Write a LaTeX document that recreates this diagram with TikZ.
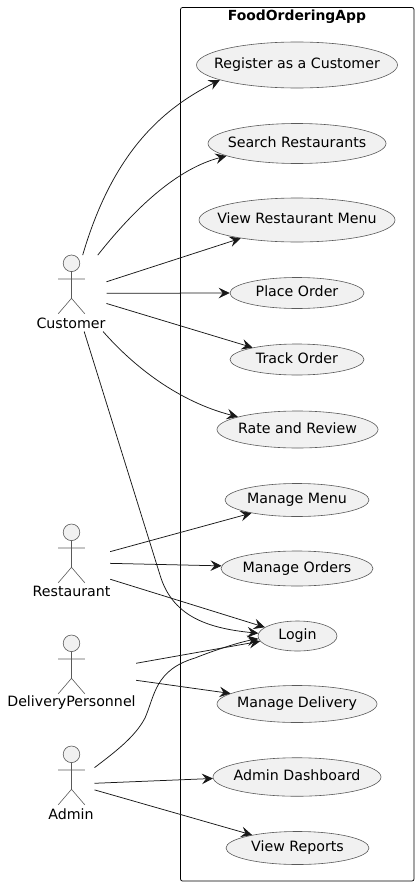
\documentclass[tikz,border=0pt]{standalone}
\usepackage{fontspec}
\setmainfont{DejaVu Sans}
\usetikzlibrary{arrows.meta,shapes.geometric}
\definecolor{ucfill}{HTML}{F1F1F1}
\definecolor{ucline}{HTML}{181818}
\definecolor{ucedge}{HTML}{5A5A5A}
\newcommand{\uctext}[1]{\makebox[0pt][c]{\raisebox{2pt}{\vphantom{Ag}#1}}}
\newcommand{\actorfig}[2]{%
  \draw[actorline] (#1,#2) circle[radius=8.3];
  \draw[actorline,fill=none] (#1,#2+8.3) -- (#1,#2+35)
    (#1-13.3,#2+15.7) -- (#1+13.3,#2+15.7)
    (#1-13.3,#2+50.5) -- (#1,#2+35) -- (#1+13.3,#2+50.5);
}
\tikzset{
  actorline/.style={draw=ucedge,line width=0.6pt,fill=ucfill},
  usecase/.style={ellipse,draw=ucedge,line width=0.6pt,fill=ucfill,inner sep=0pt,font=\fontsize{14.2}{16}\selectfont},
  actorbox/.style={rectangle,inner sep=0pt,draw=none},
  actorlabel/.style={inner sep=0pt,font=\fontsize{14.2}{16}\selectfont},
  conn/.style={draw=ucline,line width=0.75pt,-{Stealth[length=11pt,width=10.5pt,inset=4pt]}},
  sysbox/.style={draw=black,line width=0.75pt,rounded corners=2pt},
  systitle/.style={inner sep=0pt,font=\fontsize{13.9}{16}\selectfont\bfseries}
}
\begin{document}
\begin{tikzpicture}[x=1pt,y=-1pt]
\useasboundingbox (0,0) rectangle (419,886);
\node[sysbox,minimum width=233.5pt,minimum height=873.5pt,inner sep=0pt] (app) at (297.25,444.25) {};
\node[systitle] (title) at (297,17) {FoodOrderingApp};

% actor areas
\node[actorbox,minimum width=70.6pt,minimum height=76pt] (cust) at (71,293.3) {};
\node[actorbox,minimum width=77pt,minimum height=76pt] (rest) at (71.5,562) {};
\node[actorbox,minimum width=129pt,minimum height=76pt] (deli) at (71.5,673.5) {};
\node[actorbox,minimum width=46pt,minimum height=77pt] (admn) at (71.3,784.5) {};

% use cases
\node[usecase,minimum width=201pt,minimum height=46pt] (reg) at (297,65) {\uctext{Register as a Customer}};
\node[usecase,minimum width=178pt,minimum height=40pt] (sea) at (297,143.5) {\uctext{Search Restaurants}};
\node[usecase,minimum width=196pt,minimum height=44pt] (vie) at (297,220) {\uctext{View Restaurant Menu}};
\node[usecase,minimum width=134pt,minimum height=31pt] (pla) at (297,293) {\uctext{Place Order}};
\node[usecase,minimum width=134pt,minimum height=31pt] (tra) at (297,359.5) {\uctext{Track Order}};
\node[usecase,minimum width=161pt,minimum height=37pt] (rat) at (297.5,429.5) {\uctext{Rate and Review}};
\node[usecase,minimum width=144pt,minimum height=33pt] (men) at (297,500) {\uctext{Manage Menu}};
\node[usecase,minimum width=152pt,minimum height=35pt] (ord) at (297,568.5) {\uctext{Manage Orders}};
\node[usecase,minimum width=79pt,minimum height=30pt] (log) at (297.5,636) {\uctext{Login}};
\node[usecase,minimum width=160pt,minimum height=37pt] (del) at (297,704) {\uctext{Manage Delivery}};
\node[usecase,minimum width=168pt,minimum height=38.5pt] (das) at (297,777) {\uctext{Admin Dashboard}};
\node[usecase,minimum width=143pt,minimum height=33pt] (rep) at (297.5,848) {\uctext{View Reports}};

% actors
\actorfig{71.5}{263.3}
\actorfig{71.5}{532.3}
\actorfig{71.5}{643.3}
\actorfig{71.5}{754.3}
\node[actorlabel] (custl) at (71,323) {Customer};
\node[actorlabel] (restl) at (71.5,591.5) {Restaurant};
\node[actorlabel] (delil) at (71.5,703) {DeliveryPersonnel};
\node[actorlabel] (admnl) at (71,814) {Admin};

% connectors
\draw[conn] (cust.73.4) .. controls (112,155) and (160,110) .. (reg.191);
\draw[conn] (cust.55.6) .. controls (128,217) and (172,170) .. (sea.190.5);
\draw[conn] (cust.18.9) -- (vie.198);
\draw[conn] (cust.0) -- (pla.180);
\draw[conn] (cust.-16.9) -- (tra.165);
\draw[conn] (cust.-50.5) .. controls (135,368) and (180,402) .. (rat.168);
\draw[conn] (cust.-71.8) -- (160,575) .. controls (172,615) and (205,628) .. (log.176);
\draw[conn] (rest.15) -- (men.196.5);
\draw[conn] (rest.-2) -- (ord.178.6);
\draw[conn] (rest.-24.4) -- (log.165);
\draw[conn] (deli.9.9) -- (log.188.6);
\draw[conn] (deli.-6.6) -- (del.171);
\draw[conn] (admn.36.8) .. controls (115,752) and (135,737) .. (145,718) .. controls (155,695) and (155,670) .. (195,658) .. controls (215,650) and (240,642) .. (log.184);
\draw[conn] (admn.3) -- (das.181.6);
\draw[conn] (admn.-13.4) -- (rep.164);
\end{tikzpicture}
\end{document}
